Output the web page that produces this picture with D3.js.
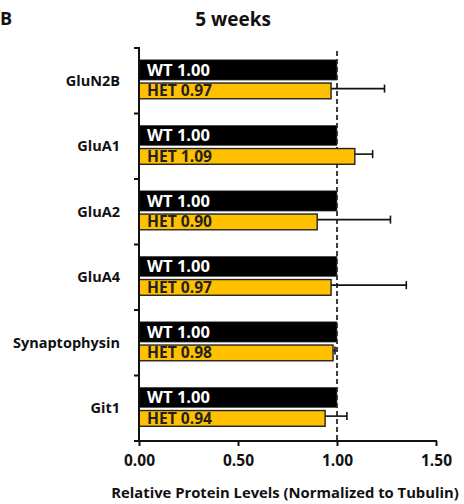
<!DOCTYPE html>
<html><head><meta charset="utf-8">
<script src="https://cdn.jsdelivr.net/npm/d3@7"></script>
<style>
body{margin:0;background:#fff;}
svg text{font-family:"Open Sans",sans-serif;font-weight:bold;}
</style></head>
<body><svg id="c" width="464" height="504"></svg>
<script>
const categories = ["GluN2B","GluA1","GluA2","GluA4","Synaptophysin","Git1"];
const wtValues = [1.00,1.00,1.00,1.00,1.00,1.00];
const hetValues = [0.97,1.09,0.90,0.97,0.98,0.94];
const hetErrors = [0.27,0.09,0.37,0.38,0.01,0.11];
const xTicks = [0,0.5,1.0,1.5];

const svg = d3.select("#c");
const x = d3.scaleLinear().domain([0,1.5]).range([139,436]);
const y = d3.scaleBand().domain(categories).range([48,441]).paddingInner(0).paddingOuter(0);
const bw = y.bandwidth();

svg.append("text").attr("x",0).attr("y",25).attr("font-size",18).attr("fill","#111").text("B");
svg.append("text").attr("x",233).attr("y",26).attr("text-anchor","middle").attr("font-size",19).attr("fill","#111").text("5 weeks");

// dashed reference line
svg.append("line").attr("x1",x(1)).attr("x2",x(1)).attr("y1",51).attr("y2",441)
  .attr("stroke","#111").attr("stroke-width",1.6).attr("stroke-dasharray","5,3");

const g = svg.append("g").selectAll("g").data(categories).join("g")
  .attr("transform",d=>`translate(0,${y(d)})`);

// WT bars
g.append("rect").attr("x",x(0)).attr("y",bw*0.18).attr("height",bw*0.31)
  .attr("width",(d,i)=>x(wtValues[i])-x(0)).attr("fill","#000").attr("stroke","#555").attr("stroke-width",0.6);
// HET error bars
g.append("line").attr("x1",(d,i)=>x(hetValues[i])).attr("x2",(d,i)=>x(hetValues[i]+hetErrors[i]))
  .attr("y1",bw*0.62).attr("y2",bw*0.62).attr("stroke","#111").attr("stroke-width",1.6);
g.append("line").attr("x1",(d,i)=>x(hetValues[i]+hetErrors[i])).attr("x2",(d,i)=>x(hetValues[i]+hetErrors[i]))
  .attr("y1",bw*0.62-4).attr("y2",bw*0.62+4).attr("stroke","#111").attr("stroke-width",1.6);
// HET bars
g.append("rect").attr("x",x(0)).attr("y",bw*0.535).attr("height",bw*0.24)
  .attr("width",(d,i)=>x(hetValues[i])-x(0)).attr("fill","#FFC000").attr("stroke","#222").attr("stroke-width",1.4);

g.append("text").attr("x",147).attr("y",bw*0.335).attr("dy","0.36em").attr("font-size",15.5).attr("fill","#fff")
  .attr("textLength",63).attr("lengthAdjust","spacingAndGlyphs")
  .text((d,i)=>"WT "+wtValues[i].toFixed(2));
g.append("text").attr("x",147).attr("y",bw*0.655).attr("dy","0.36em").attr("font-size",15.5).attr("fill","#222")
  .attr("textLength",65).attr("lengthAdjust","spacingAndGlyphs")
  .text((d,i)=>"HET "+hetValues[i].toFixed(2));

// category labels
g.append("text").attr("x",120).attr("y",bw*0.5).attr("dy","0.36em").attr("text-anchor","end")
  .attr("font-size",14.5).attr("fill","#111").text(d=>d);

// y axis
svg.append("line").attr("x1",x(0)).attr("x2",x(0)).attr("y1",47).attr("y2",442).attr("stroke","#111").attr("stroke-width",2);
const yTickPos = categories.map(c=>y(c));
svg.append("g").selectAll("line").data(yTickPos).join("line")
  .attr("x1",x(0)-5).attr("x2",x(0)).attr("y1",d=>d).attr("y2",d=>d).attr("stroke","#111").attr("stroke-width",2);

// x axis
const xa = svg.append("g").attr("transform","translate(0,441)")
  .call(d3.axisBottom(x).tickValues(xTicks).tickFormat(d3.format(".2f")).tickSize(5).tickSizeOuter(0));
xa.select(".domain").attr("stroke","#111").attr("stroke-width",2).attr("d",`M${x(0)-5},0H${x(1.5)+1}`);
xa.selectAll(".tick line").attr("stroke","#111").attr("stroke-width",2);
xa.selectAll(".tick text").attr("font-size",15.5).attr("fill","#111").attr("dy","1.1em")
  .style("font-family","'Open Sans',sans-serif").style("font-weight","bold");

svg.append("text").attr("x",285).attr("y",498).attr("text-anchor","middle").attr("font-size",14.8)
  .attr("fill","#111").text("Relative Protein Levels (Normalized to Tubulin)");
</script></body></html>
